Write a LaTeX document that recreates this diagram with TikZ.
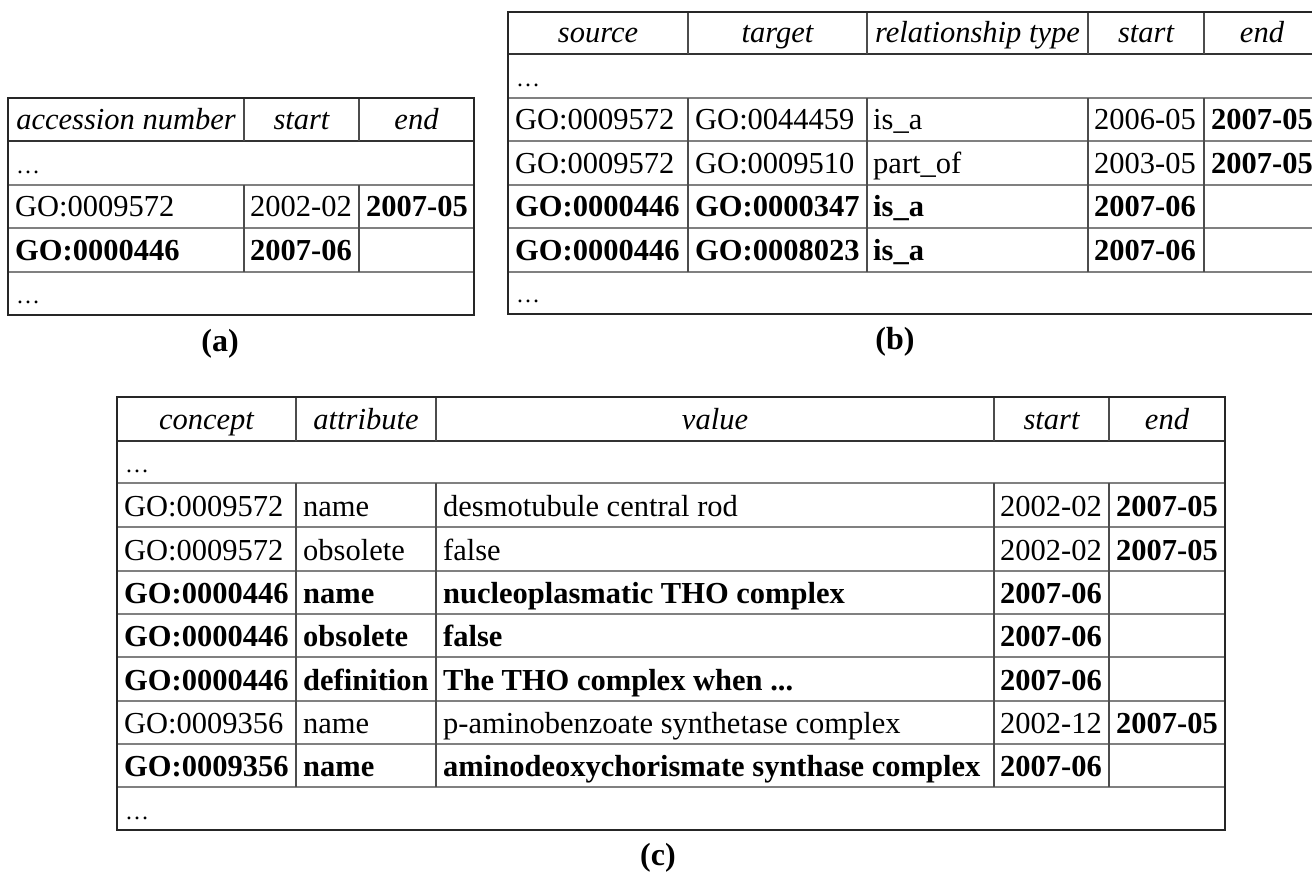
\documentclass[tikz,border=0pt]{standalone}
\usepackage{fontspec}
\setmainfont{Liberation Serif}
\newcommand\tabfont{\fontsize{30.5}{36}\selectfont}
\newcommand\dotfont{\fontsize{24}{28}\selectfont}
\newcommand\capfont{\fontsize{32}{38}\selectfont}
\begin{document}
\begin{tikzpicture}[x=1pt,y=-1pt,
  txt/.style={anchor=base west, inner sep=0pt, font=\tabfont},
  bt/.style={anchor=base west, inner sep=0pt, font=\tabfont\bfseries},
  hd/.style={anchor=base, inner sep=0pt, font=\tabfont\itshape},
  el/.style={anchor=base west, inner sep=0pt, font=\dotfont},
  captext/.style={anchor=base, inner sep=0pt, font=\capfont\bfseries},
  outer/.style={line width=2.4pt, draw=black!85},
  hline/.style={line width=1.3pt, draw=black!50},
  vline/.style={line width=1.3pt, draw=black!70},
  hdline/.style={line width=1.4pt, draw=black!80}]
\useasboundingbox (0,0) rectangle (1312,874);
\fill[white] (0,0) rectangle (1312,874);
\clip (0,0) rectangle (1312,874);

% ---------------- table (a) ----------------
\draw[hdline] (8,141) -- (474,141);
\draw[hline] (8,185) -- (474,185) (8,228) -- (474,228) (8,272) -- (474,272);
\draw[vline] (244,98) -- (244,141) (359,98) -- (359,141)
             (244,185) -- (244,272) (359,185) -- (359,272);
\draw[outer] (8,98) rectangle (474,315);
\node[hd] (a-h1) at (126,130) {accession number};
\node[hd] (a-h2) at (301.5,130) {start};
\node[hd] (a-h3) at (416.5,130) {end};
\node[el] (a-d1) at (16,174) {…};
\node[txt] (a-r1c1) at (15,217) {GO:0009572};
\node[txt] (a-r1c2) at (250,217) {2002-02};
\node[bt]  (a-r1c3) at (366,217) {2007-05};
\node[bt]  (a-r2c1) at (15,261) {GO:0000446};
\node[bt]  (a-r2c2) at (250,261) {2007-06};
\node[el] (a-d2) at (16,304) {…};
\node[captext] (a-cap) at (220,352) {(a)};

% ---------------- table (b) ----------------
\draw[hdline] (508,54) -- (1320,54);
\draw[hline] (508,98) -- (1320,98) (508,141) -- (1320,141) (508,185) -- (1320,185)
             (508,228) -- (1320,228) (508,272) -- (1320,272);
\foreach \cx in {688,867,1088,1204}{
  \draw[vline] (\cx,12) -- (\cx,54) (\cx,98) -- (\cx,272);
}
\draw[outer] (508,12) rectangle (1320,314);
\node[hd] (b-h1) at (598,43) {source};
\node[hd] (b-h2) at (777.5,43) {target};
\node[hd] (b-h3) at (977.5,43) {relationship type};
\node[hd] (b-h4) at (1146,43) {start};
\node[hd] (b-h5) at (1262,43) {end};
\node[el] (b-d1) at (516,87) {…};
\node[txt] (b-r1c1) at (515,130) {GO:0009572};
\node[txt] (b-r1c2) at (695,130) {GO:0044459};
\node[txt] (b-r1c3) at (873,130) {is\_a};
\node[txt] (b-r1c4) at (1094,130) {2006-05};
\node[bt]  (b-r1c5) at (1211,130) {2007-05};
\node[txt] (b-r2c1) at (515,174) {GO:0009572};
\node[txt] (b-r2c2) at (695,174) {GO:0009510};
\node[txt] (b-r2c3) at (873,174) {part\_of};
\node[txt] (b-r2c4) at (1094,174) {2003-05};
\node[bt]  (b-r2c5) at (1211,174) {2007-05};
\node[bt] (b-r3c1) at (515,217) {GO:0000446};
\node[bt] (b-r3c2) at (695,217) {GO:0000347};
\node[bt] (b-r3c3) at (873,217) {is\_a};
\node[bt] (b-r3c4) at (1094,217) {2007-06};
\node[bt] (b-r4c1) at (515,261) {GO:0000446};
\node[bt] (b-r4c2) at (695,261) {GO:0008023};
\node[bt] (b-r4c3) at (873,261) {is\_a};
\node[bt] (b-r4c4) at (1094,261) {2007-06};
\node[el] (b-d2) at (516,303) {…};
\node[captext] (b-cap) at (895,350) {(b)};

% ---------------- table (c) ----------------
\draw[hdline] (117,441) -- (1225,441);
\foreach \ry in {483,527,571,614,657,701,744,787}{
  \draw[hline] (117,\ry) -- (1225,\ry);
}
\foreach \cx in {296,436,994,1109}{
  \draw[vline] (\cx,397) -- (\cx,441) (\cx,483) -- (\cx,787);
}
\draw[outer] (117,397) rectangle (1225,830);
\node[hd] (c-h1) at (206.5,430) {concept};
\node[hd] (c-h2) at (366,430) {attribute};
\node[hd] (c-h3) at (715,430) {value};
\node[hd] (c-h4) at (1051.5,430) {start};
\node[hd] (c-h5) at (1167,430) {end};
\node[el] (c-d1) at (125,472) {…};
\node[txt] (c-r1c1) at (124,516) {GO:0009572};
\node[txt] (c-r1c2) at (303,516) {name};
\node[txt] (c-r1c3) at (443,516) {desmotubule central rod};
\node[txt] (c-r1c4) at (1000,516) {2002-02};
\node[bt]  (c-r1c5) at (1116,516) {2007-05};
\node[txt] (c-r2c1) at (124,560) {GO:0009572};
\node[txt] (c-r2c2) at (303,560) {obsolete};
\node[txt] (c-r2c3) at (443,560) {false};
\node[txt] (c-r2c4) at (1000,560) {2002-02};
\node[bt]  (c-r2c5) at (1116,560) {2007-05};
\node[bt] (c-r3c1) at (124,603) {GO:0000446};
\node[bt] (c-r3c2) at (303,603) {name};
\node[bt] (c-r3c3) at (443,603) {nucleoplasmatic THO complex};
\node[bt] (c-r3c4) at (1000,603) {2007-06};
\node[bt] (c-r4c1) at (124,646) {GO:0000446};
\node[bt] (c-r4c2) at (303,646) {obsolete};
\node[bt] (c-r4c3) at (443,646) {false};
\node[bt] (c-r4c4) at (1000,646) {2007-06};
\node[bt] (c-r5c1) at (124,690) {GO:0000446};
\node[bt] (c-r5c2) at (303,690) {definition};
\node[bt] (c-r5c3) at (443,690) {The THO complex when ...};
\node[bt] (c-r5c4) at (1000,690) {2007-06};
\node[txt] (c-r6c1) at (124,733) {GO:0009356};
\node[txt] (c-r6c2) at (303,733) {name};
\node[txt] (c-r6c3) at (443,733) {p-aminobenzoate synthetase complex};
\node[txt] (c-r6c4) at (1000,733) {2002-12};
\node[bt]  (c-r6c5) at (1116,733) {2007-05};
\node[bt] (c-r7c1) at (124,776) {GO:0009356};
\node[bt] (c-r7c2) at (303,776) {name};
\node[bt] (c-r7c3) at (443,776) {aminodeoxychorismate synthase complex};
\node[bt] (c-r7c4) at (1000,776) {2007-06};
\node[el] (c-d2) at (125,819) {…};
\node[captext] (c-cap) at (658,865) {(c)};
\end{tikzpicture}
\end{document}
